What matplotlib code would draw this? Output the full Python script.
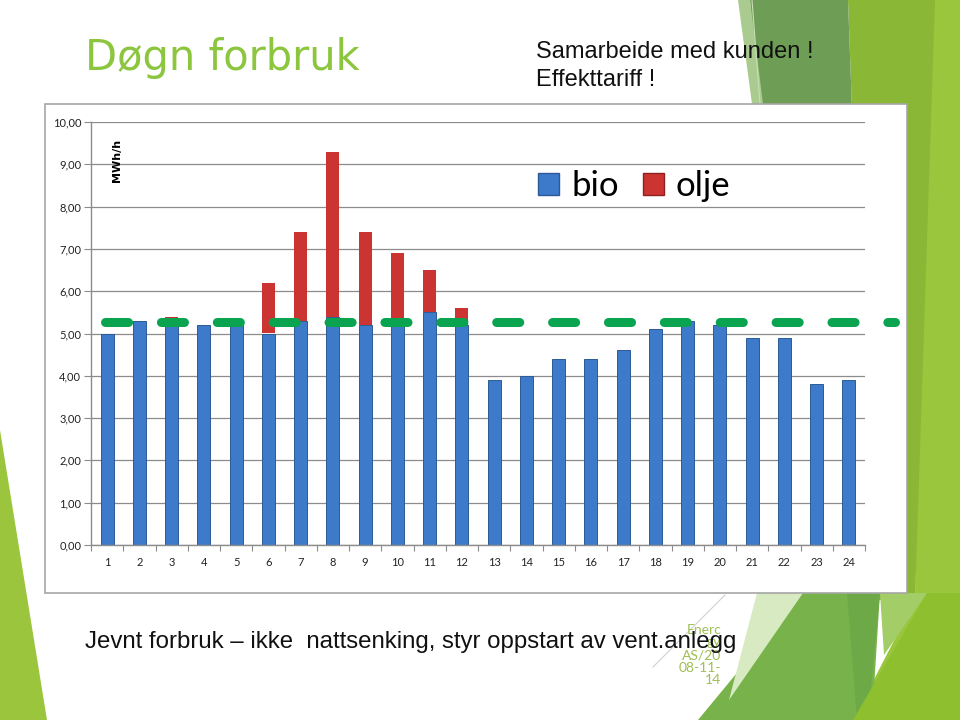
import matplotlib
matplotlib.use("Agg")
import matplotlib.pyplot as plt
from matplotlib.patches import Polygon, Rectangle, Patch
from matplotlib.lines import Line2D
import numpy as np

# ---------------- data ----------------
hours = list(range(1, 25))
bio = [5.0, 5.3, 5.3, 5.2, 5.3, 5.0, 5.3, 5.4, 5.2, 5.3, 5.5, 5.2,
       3.9, 4.0, 4.4, 4.4, 4.6, 5.1, 5.3, 5.2, 4.9, 4.9, 3.8, 3.9]
olje = [0.0, 0.0, 0.1, 0.0, 0.0, 1.2, 2.1, 3.9, 2.2, 1.6, 1.0, 0.4,
        0.0, 0.0, 0.0, 0.0, 0.0, 0.0, 0.0, 0.0, 0.0, 0.0, 0.0, 0.0]
limit_level = 5.27
y_ticks = [0, 1, 2, 3, 4, 5, 6, 7, 8, 9, 10]
y_tick_labels = ["0,00", "1,00", "2,00", "3,00", "4,00", "5,00",
                 "6,00", "7,00", "8,00", "9,00", "10,00"]
series_names = ["bio", "olje"]
unit_label = "MWh/h"
title = "Døgn forbruk"
subtitle = "Samarbeide med kunden !\nEffekttariff !"
footer = "Jevnt forbruk \u2013 ikke  nattsenking, styr oppstart av vent.anlegg"
side_note = "Enerc\ngy\nAS/20\n08-11-\n14"

W, H = 960, 720
fig = plt.figure(figsize=(W / 100, H / 100), dpi=100)
fig.patch.set_facecolor("white")


def px(pts):
    return [(x / W, 1 - y / H) for x, y in pts]


def poly(pts, color, z=-3):
    fig.add_artist(Polygon(px(pts), closed=True, facecolor=color,
                           edgecolor="none", transform=fig.transFigure, zorder=z))


# decorative slide background shapes
poly([(0, 430), (47, 720), (0, 720)], "#9BC53D")
poly([(925, 0), (960, 0), (960, 720), (853, 720), (915, 600)], "#9AC63E")
poly([(848, 0), (935, 0), (915, 600), (870, 600)], "#8AB836")
poly([(750, 0), (848, 0), (870, 600), (800, 600)], "#6E9E55")
poly([(738, 0), (750, 0), (763, 104), (752, 104)], "#AACB90")
poly([(803, 593), (880, 593), (872, 720), (698, 720)], "#78B24A")
poly([(847, 593), (880, 593), (868, 720), (857, 720)], "#6DA947")
poly([(880, 593), (927, 593), (884, 655)], "#A3CD66")
poly([(927, 593), (960, 593), (960, 720), (853, 720)], "#8EBF2E")
poly([(757, 593), (803, 593), (729, 700)], "#D8EAC2")
fig.add_artist(Line2D([725 / W, 653 / W], [1 - 595 / H, 1 - 667 / H],
                      color="#D0D0D0", lw=0.8, transform=fig.transFigure, zorder=-2))
fig.add_artist(Line2D([752 / W, 760 / W], [1 - 0 / H, 1 - 104 / H],
                      color="#C8DDB8", lw=0.8, transform=fig.transFigure, zorder=-2))

# chart frame
fig.add_artist(Rectangle((45 / W, 1 - 593 / H), 862 / W, 489 / H,
                         facecolor="white", edgecolor="#A6A6A6", lw=1.2,
                         transform=fig.transFigure, zorder=-1))

# ---------------- axes ----------------
ax = fig.add_axes([91 / W, 1 - 545 / H, 774 / W, 423 / H])
ax.patch.set_alpha(0)
ax.set_zorder(0)

x = np.array(hours)
ax.bar(x, bio, width=0.4, color="#3D7ACA", edgecolor="#2C5A96", lw=0.7,
       zorder=2, label=series_names[0])
ax.bar(x, olje, width=0.4, bottom=bio, color="#CB3431", edgecolor="none",
       lw=0, zorder=2, label=series_names[1])

# dashed limit line (extends beyond plot area)
ax.plot([0.919, 25.43], [limit_level, limit_level], color="#0AA34F",
        lw=6.5, solid_capstyle="round", dash_capstyle="round",
        dashes=(2.56, 3.63), clip_on=False, zorder=3)

ax.set_xlim(0.5, 24.5)
ax.set_ylim(0, 10)
ax.set_yticks(y_ticks)
ax.set_yticklabels(y_tick_labels, fontsize=8, family="Lato", color="#222222")
ax.set_xticks(np.arange(0.5, 25, 1))
ax.set_xticklabels([])
ax.set_xticks(x, minor=True)
ax.set_xticklabels([str(h) for h in hours], minor=True, fontsize=8,
                   family="Lato", color="#222222")
ax.tick_params(axis="x", which="major", length=4, color="#8C8C8C", direction="out")
ax.tick_params(axis="x", which="minor", length=0, pad=9)
ax.tick_params(axis="y", length=5, color="#8C8C8C", direction="out", pad=2)

ax.grid(axis="y", color="#8C8C8C", lw=0.9, zorder=0)
ax.set_axisbelow(True)
for s in ["top", "right"]:
    ax.spines[s].set_visible(False)
for s in ["left", "bottom"]:
    ax.spines[s].set_color("#8C8C8C")
    ax.spines[s].set_linewidth(1.0)

ax.text(0.034, 0.91, unit_label, transform=ax.transAxes, rotation=90,
        ha="center", va="center", fontsize=8, fontweight="bold", family="DejaVu Sans")

handles = [Patch(facecolor="#3D7ACA", edgecolor="#2C5A96"),
           Patch(facecolor="#CB3431", edgecolor="#8E2220")]
ax.legend(handles, series_names, loc="center", bbox_to_anchor=(0.702, 0.849),
          ncol=2, frameon=False, handlelength=0.6,
          handleheight=0.6, handletextpad=0.35, columnspacing=0.7,
          prop={"family": "Lato", "size": 25})

# ---------------- slide texts ----------------
fig.text(85 / W, 1 - 58 / H, title, fontsize=30, color="#8CC63F",
         family="DejaVu Sans", va="center", ha="left")
fig.text(536 / W, 1 - 66 / H, subtitle, fontsize=17, color="#111111",
         family="Liberation Sans", va="center", ha="left", linespacing=1.3)
fig.text(721 / W, 1 - 655 / H, side_note, fontsize=10, color="#A0BE55",
         family="Lato", va="center", ha="right", linespacing=1.05, zorder=1)
fig.text(85 / W, 1 - 642 / H, footer, fontsize=17.3, color="#111111",
         family="Liberation Sans", va="center", ha="left", zorder=2)

fig.savefig("out.png", dpi=100)
